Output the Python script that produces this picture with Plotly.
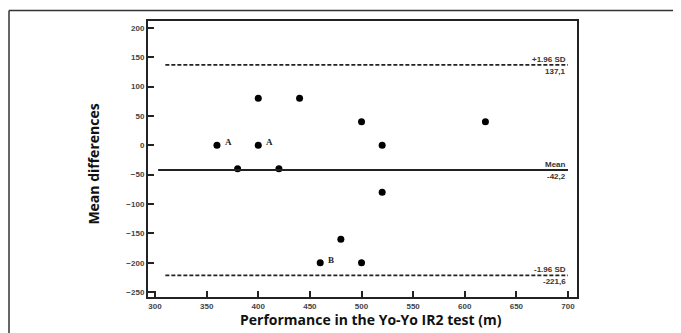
import plotly.graph_objects as go

# Data
performance = [360, 400, 400, 440, 380, 420, 500, 520, 520, 620, 460, 480, 500]
mean_diff = [0, 80, 0, 80, -40, -40, 40, 0, -80, 40, -200, -160, -200]

point_labels = ["A", "A", "B"]
label_x = [360, 400, 460]
label_y = [0, 0, -200]

limit_values = [137.1, -42.2, -221.6]
limit_names = ["+1.96 SD", "Mean", "-1.96 SD"]
limit_texts = ["137,1", "-42,2", "-221,6"]
limit_dash = ["4px,2px", "solid", "4px,2px"]
line_span = [300, 700]

x_ticks = [300, 350, 400, 450, 500, 550, 600, 650, 700]
y_ticks = [200, 150, 100, 50, 0, -50, -100, -150, -200, -250]

x_title = "Performance in the Yo-Yo IR2 test (m)"
y_title = "Mean differences"

fig = go.Figure()
fig.add_trace(go.Scatter(
    x=performance, y=mean_diff, mode="markers",
    marker=dict(color="black", size=7), showlegend=False, hoverinfo="skip"))

for v, d in zip(limit_values, limit_dash):
    fig.add_shape(type="line", xref="x", yref="y",
                  x0=line_span[0] + (10 if d != "solid" else 3), x1=line_span[1],
                  y0=v, y1=v,
                  line=dict(color="#222", width=1.6 if d != "solid" else 2, dash=d))

small = dict(family="Liberation Sans", size=8, color="#333", weight="bold")
for v, n, t in zip(limit_values, limit_names, limit_texts):
    fig.add_annotation(x=line_span[1], y=v, text=n, xref="x", yref="y",
                       xanchor="right", yanchor="bottom", showarrow=False,
                       font=small, yshift=-1)
    fig.add_annotation(x=line_span[1], y=v, text=t, xref="x", yref="y",
                       xanchor="right", yanchor="top", showarrow=False,
                       font=small, yshift=0)

for lx, ly, lt in zip(label_x, label_y, point_labels):
    fig.add_annotation(x=lx, y=ly, text=lt, xref="x", yref="y",
                       xanchor="left", yanchor="bottom", showarrow=False,
                       xshift=6, yshift=-4,
                       font=dict(family="Liberation Serif", size=9, color="#222", weight="bold"))

title_font = dict(family="Open Sans", size=14, color="#111", weight="bold")
fig.add_annotation(text=x_title, xref="paper", yref="paper", x=0.52, y=-0.083,
                   xanchor="center", yanchor="middle", showarrow=False, font=title_font)
fig.add_annotation(text=y_title, xref="paper", yref="paper", x=-0.128, y=0.48,
                   xanchor="center", yanchor="middle", showarrow=False, textangle=-90,
                   font=title_font)

# outer frame (left and top)
fig.add_shape(type="line", xref="paper", yref="paper", x0=-0.324, x1=-0.324,
              y0=1.0378, y1=-0.2, line=dict(color="#333", width=1.5))
fig.add_shape(type="line", xref="paper", yref="paper", x0=-0.324, x1=1.3,
              y0=1.0378, y1=1.0378, line=dict(color="#333", width=1.5))

axis_common = dict(showgrid=False, zeroline=False, showline=True, linecolor="#222",
                   linewidth=2, mirror=True, ticks="inside", ticklen=6,
                   tickcolor="#222", tickwidth=1.5,
                   tickfont=dict(family="Liberation Sans", size=8, color="#444", weight="bold"))

fig.update_xaxes(range=[293.2, 708.7], tickvals=x_ticks, **axis_common)
fig.update_yaxes(range=[-258.4, 211.8], tickvals=y_ticks, **axis_common)

fig.update_layout(width=673, height=325, margin=dict(l=140, r=104, t=11, b=36),
                  plot_bgcolor="white", paper_bgcolor="white")

fig.write_html("out.html")
